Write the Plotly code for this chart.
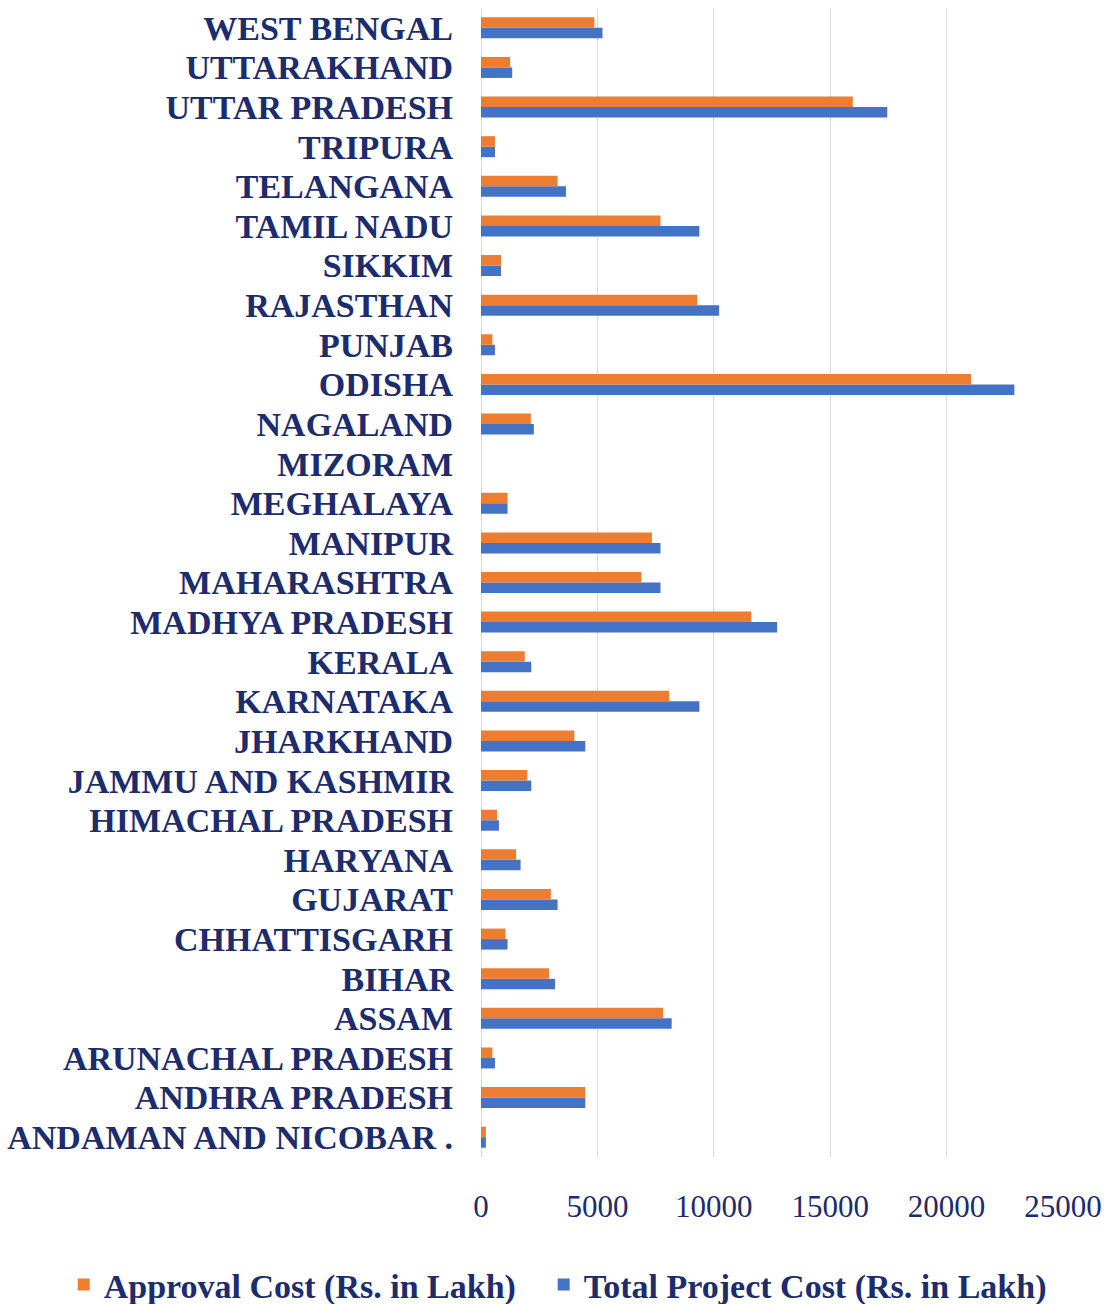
import plotly.graph_objects as go

# States / UTs, bottom to top as drawn on the category axis
states = [
    "ANDAMAN AND NICOBAR .", "ANDHRA PRADESH", "ARUNACHAL PRADESH", "ASSAM",
    "BIHAR", "CHHATTISGARH", "GUJARAT", "HARYANA", "HIMACHAL PRADESH",
    "JAMMU AND KASHMIR", "JHARKHAND", "KARNATAKA", "KERALA", "MADHYA PRADESH",
    "MAHARASHTRA", "MANIPUR", "MEGHALAYA", "MIZORAM", "NAGALAND", "ODISHA",
    "PUNJAB", "RAJASTHAN", "SIKKIM", "TAMIL NADU", "TELANGANA", "TRIPURA",
    "UTTAR PRADESH", "UTTARAKHAND", "WEST BENGAL",
]

# Approval Cost (Rs. in Lakh)
approval_cost = [
    210, 4480, 490, 7820,
    2920, 1050, 3000, 1510, 690,
    1990, 4010, 8080, 1880, 11610,
    6890, 7340, 1140, 0, 2140, 21050,
    490, 9290, 860, 7710, 3290, 600,
    15970, 1250, 4870,
]

# Total Project Cost (Rs. in Lakh)
total_cost = [
    210, 4480, 600, 8190,
    3180, 1140, 3290, 1700, 770,
    2160, 4480, 9380, 2160, 12720,
    7710, 7710, 1140, 0, 2270, 22910,
    600, 10230, 860, 9380, 3650, 600,
    17450, 1340, 5220,
]

x_ticks = [0, 5000, 10000, 15000, 20000, 25000]
x_tick_labels = ["0", "5000", "10000", "15000", "20000", "25000"]

NAVY = "#1C2C6C"
FONT = "Liberation Serif"

fig = go.Figure()
# Blue first so that, within each group, the orange bar sits above it
fig.add_trace(go.Bar(
    y=states, x=total_cost, orientation="h",
    name="<b>Total Project Cost (Rs. in Lakh)</b>",
    marker=dict(color="#4472C4", line=dict(width=0)),
    legend="legend2",
))
fig.add_trace(go.Bar(
    y=states, x=approval_cost, orientation="h",
    name="<b>Approval Cost (Rs. in Lakh)</b>",
    marker=dict(color="#ED7D31", line=dict(width=0)),
    legend="legend",
))

legend_style = dict(
    orientation="h", yanchor="middle", y=-0.1114, xanchor="left",
    font=dict(family=FONT, size=34, color=NAVY),
    itemwidth=30, bgcolor="rgba(0,0,0,0)",
)

fig.update_layout(
    width=1110, height=1304, autosize=False,
    margin=dict(l=481, r=47, t=8, b=147, autoexpand=False),
    paper_bgcolor="white", plot_bgcolor="white",
    barmode="group", bargap=0.47, bargroupgap=0,
    font=dict(family=FONT, color=NAVY, size=32),
    legend=dict(legend_style, x=-0.717),
    legend2=dict(legend_style, x=0.1077),
    showlegend=True,
)

fig.update_xaxes(
    range=[0, 25000], tickvals=x_ticks, ticktext=x_tick_labels,
    showgrid=True, gridcolor="#D9D9D9", gridwidth=1,
    zeroline=True, zerolinecolor="#D9D9D9", zerolinewidth=1,
    showline=False, ticks="", ticklabelstandoff=28,
    tickfont=dict(family=FONT, size=31, color=NAVY),
)
fig.update_yaxes(
    type="category", categoryorder="array", categoryarray=states,
    tickvals=states, ticktext=[f"<b>{s}</b>" for s in states],
    showgrid=False, showline=False, ticks="", ticklabelstandoff=27,
    tickfont=dict(family=FONT, size=34, color=NAVY),
)

fig.write_html("out.html")
